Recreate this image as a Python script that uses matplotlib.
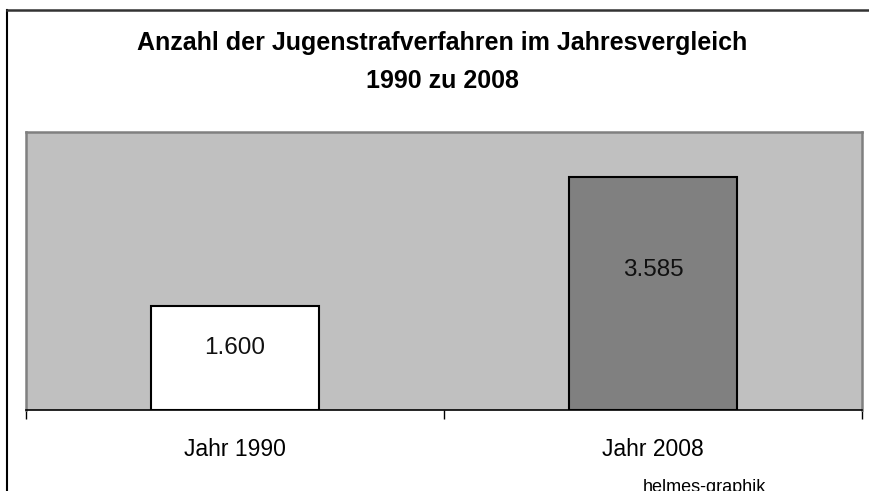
# Jugendstrafverfahren 1990 vs 2008 (bar chart)

import matplotlib.pyplot as plt
from matplotlib.lines import Line2D

years = ["Jahr 1990", "Jahr 2008"]
cases = [1600, 3585]
case_labels = ["1.600", "3.585"]
bar_colors = ["white", "#808080"]

plt.rcParams["font.family"] = ["Liberation Sans", "DejaVu Sans"]

fig = plt.figure(figsize=(8.7, 4.91), dpi=100)
ax = fig.add_axes([0.0299, 0.165, 0.9609, 0.5662])

x = list(range(len(years)))
ax.bar(x, cases, width=0.40, color=bar_colors, edgecolor="black", linewidth=1.5, zorder=3)
for xi, v, lab in zip(x, cases, case_labels):
    ax.text(xi, v * 0.6, lab, ha="center", va="center", fontsize=17.5, color="#111111", zorder=4)

ax.set_facecolor("#C0C0C0")
ax.set_xlim(-0.5, 1.5)
ax.set_ylim(0, 4280)
ax.set_yticks([])

# category boundaries get the tick marks, labels sit in between
ax.set_xticks([-0.5, 0.5, 1.5])
ax.set_xticklabels([])
ax.tick_params(axis="x", which="major", direction="out", length=6.5, width=1, color="black")
ax.set_xticks(x, minor=True)
ax.set_xticklabels(years, minor=True, fontsize=16.5)
ax.tick_params(axis="x", which="minor", length=0, pad=20.5)

for side in ["top", "right", "left"]:
    ax.spines[side].set_color("#808080")
    ax.spines[side].set_linewidth(1.8)
ax.spines["bottom"].set_color("black")
ax.spines["bottom"].set_linewidth(1.2)

fig.text(0.508, 0.898, "Anzahl der Jugenstrafverfahren im Jahresvergleich", ha="center", va="baseline",
         fontsize=18, fontweight="bold")
fig.text(0.508, 0.821, "1990 zu 2008", ha="center", va="baseline", fontsize=18, fontweight="bold")
fig.text(0.81, -0.003, "helmes-graphik", ha="center", va="baseline", fontsize=13)

# chart frame, cut off at right and bottom
fig.add_artist(Line2D([0.008, 0.008], [0, 0.9796], color="black", linewidth=1.5))
fig.add_artist(Line2D([0.008, 1.0], [0.9796, 0.9796], color="#333333", linewidth=1.8))

fig.savefig("out.png", dpi=100)
